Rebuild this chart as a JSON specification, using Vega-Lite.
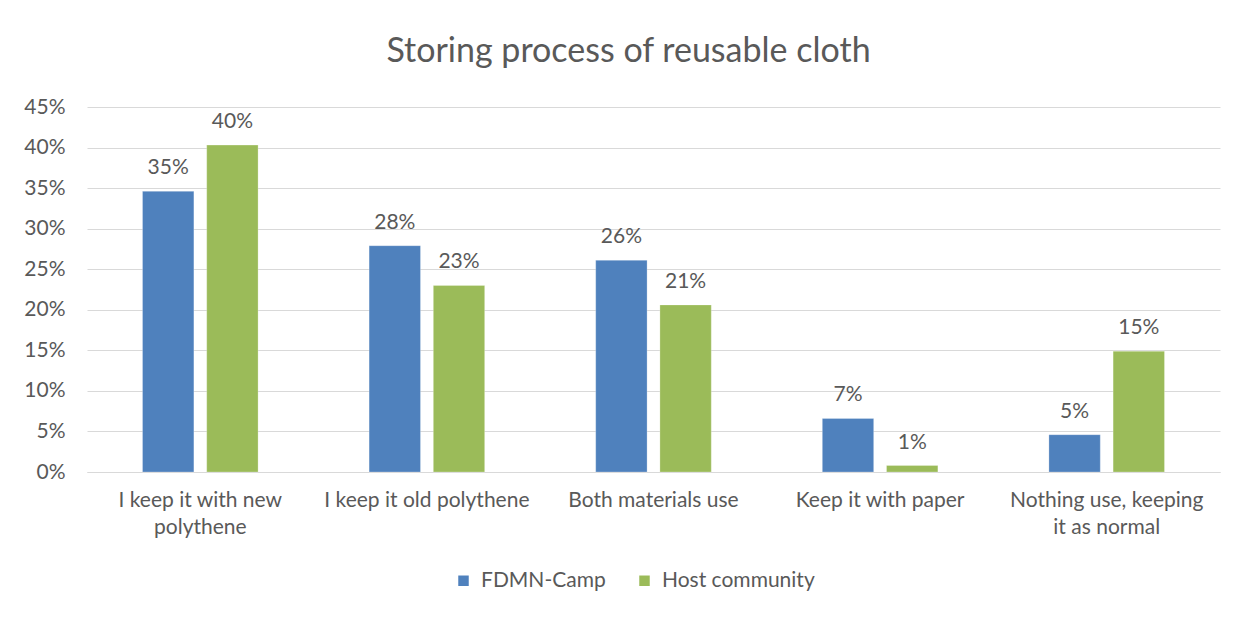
{
  "$schema": "https://vega.github.io/schema/vega-lite/v6.json",
  "width": 1133,
  "height": 365,
  "autosize": {"type": "none"},
  "padding": {"left": 87, "top": 107, "right": 25, "bottom": 145},
  "background": "white",
  "view": {"stroke": null},
  "title": {"text": "Storing process of reusable cloth", "fontSize": 34, "font": "Lato", "fontWeight": "normal", "color": "#595959", "anchor": "middle", "offset": 27, "dx": -25},
  "data": {"values": [
    {"category": "I keep it with new polythene", "group": "FDMN-Camp", "value": 0.346},
    {"category": "I keep it with new polythene", "group": "Host community", "value": 0.403},
    {"category": "I keep it old polythene", "group": "FDMN-Camp", "value": 0.279},
    {"category": "I keep it old polythene", "group": "Host community", "value": 0.230},
    {"category": "Both materials use", "group": "FDMN-Camp", "value": 0.261},
    {"category": "Both materials use", "group": "Host community", "value": 0.206},
    {"category": "Keep it with paper", "group": "FDMN-Camp", "value": 0.066},
    {"category": "Keep it with paper", "group": "Host community", "value": 0.008},
    {"category": "Nothing use, keeping it as normal", "group": "FDMN-Camp", "value": 0.046},
    {"category": "Nothing use, keeping it as normal", "group": "Host community", "value": 0.149}
  ]},
  "encoding": {
    "x": {
      "field": "category", "type": "nominal", "sort": null,
      "scale": {"paddingInner": 0.49, "paddingOuter": 0.245},
      "axis": {
        "title": null, "ticks": false, "labelAngle": 0, "labelFont": "Lato", "labelFontSize": 21,
        "labelColor": "#595959", "labelPadding": 17, "labelLineHeight": 27, "labelLimit": 400,
        "domainColor": "#D9D9D9", "domainWidth": 1,
        "labelExpr": "datum.value == 'I keep it with new polythene' ? ['I keep it with new', 'polythene'] : datum.value == 'Nothing use, keeping it as normal' ? ['Nothing use, keeping', 'it as normal'] : datum.value"
      }
    },
    "xOffset": {"field": "group", "type": "nominal", "sort": null, "scale": {"paddingInner": 0.2, "paddingOuter": 0}},
    "y": {
      "field": "value", "type": "quantitative",
      "scale": {"domain": [0, 0.45], "nice": false},
      "axis": {
        "title": null, "values": [0, 0.05, 0.1, 0.15, 0.2, 0.25, 0.3, 0.35, 0.4, 0.45], "format": ".0%",
        "ticks": false, "domain": false, "labelFont": "Lato", "labelFontSize": 21, "labelColor": "#595959",
        "labelPadding": 22, "gridColor": "#D9D9D9", "gridWidth": 1
      }
    }
  },
  "layer": [
    {
      "mark": {"type": "bar", "stroke": "#ffffff", "strokeOpacity": 0.25, "strokeWidth": 1},
      "encoding": {
        "color": {
          "field": "group", "type": "nominal", "sort": null,
          "scale": {"domain": ["FDMN-Camp", "Host community"], "range": ["#4F81BD", "#9BBB59"]},
          "legend": {
            "title": null, "orient": "none", "direction": "horizontal", "legendX": 366, "legendY": 463,
            "symbolType": "square", "symbolSize": 110, "symbolStrokeWidth": 0, "labelFont": "Lato",
            "labelFontSize": 21, "labelColor": "#595959", "labelOffset": 7, "columnPadding": 28
          }
        }
      }
    },
    {
      "mark": {"type": "text", "baseline": "alphabetic", "dy": -17, "font": "Lato", "fontSize": 21, "color": "#595959"},
      "encoding": {"text": {"field": "value", "type": "quantitative", "format": ".0%"}}
    }
  ]
}
